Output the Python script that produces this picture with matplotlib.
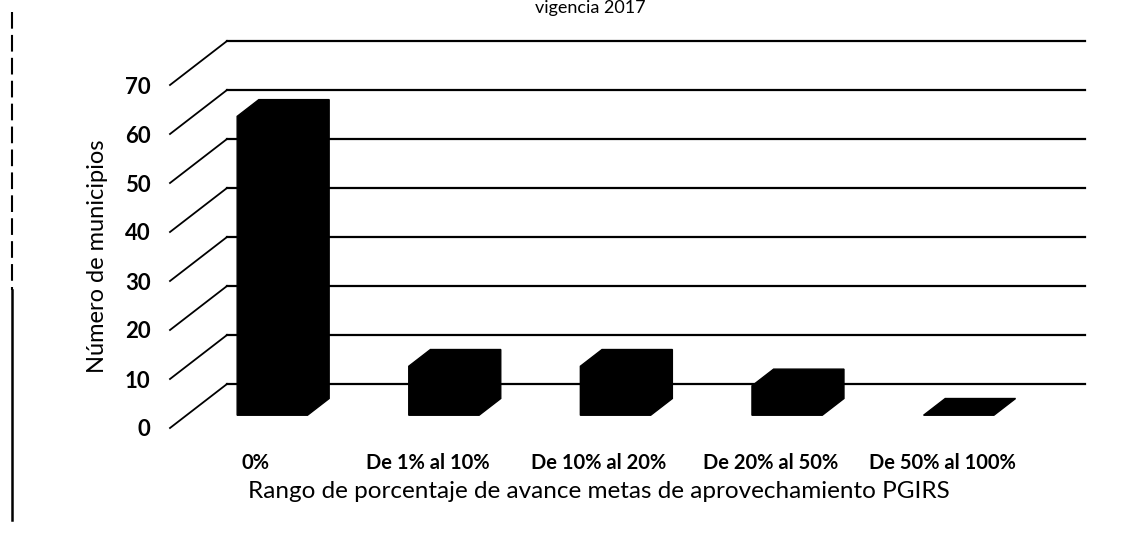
import matplotlib
matplotlib.use("Agg")
import matplotlib.pyplot as plt
from matplotlib.patches import Polygon
from matplotlib.lines import Line2D

categories = ["0%", "De 1% al 10%", "De 10% al 20%", "De 20% al 50%", "De 50% al 100%"]
values = [61, 10, 10, 6, 0]
y_ticks = [0, 10, 20, 30, 40, 50, 60, 70]
title = "vigencia 2017"
x_title = "Rango de porcentaje de avance metas de aprovechamiento PGIRS"
y_title = "Número de municipios"

W, H = 1143, 545
plt.rcParams['font.family'] = ['Lato', 'DejaVu Sans']
fig = plt.figure(figsize=(W / 100, H / 100), dpi=100)
fig.patch.set_facecolor('white')

# front plane of the 3D box
ax_left, ax_bottom, ax_w, ax_h = 170, H - 428, 858, 343
ax = fig.add_axes([ax_left / W, ax_bottom / H, ax_w / W, ax_h / H])
ax.set_xlim(-0.5, len(categories) - 0.5)
ax.set_ylim(0, 70)
for s in ax.spines.values():
    s.set_visible(False)
ax.patch.set_alpha(0)

# oblique depth vector (in data units)
DX = 57 / ax_w * len(categories)
DY = 44 / ax_h * 70


def proj(x, y, d):
    return x + d * DX, y + d * DY


x0, x1 = ax.get_xlim()
# back wall gridlines and left side-wall diagonals
for v in y_ticks:
    a = proj(x0, v, 1)
    b = proj(x1, v, 1)
    ax.plot([a[0], b[0]], [a[1], b[1]], color='black', lw=1.6, clip_on=False, zorder=1)
    f = proj(x0, v, 0)
    ax.plot([f[0], a[0]], [f[1], a[1]], color='black', lw=1.3, clip_on=False, zorder=1)

# 3D bars
hw = 0.205
d0, d1 = 0.29, 0.67
for i, v in enumerate(values):
    xa, xb = i - hw, i + hw
    pts = [proj(xa, 0, d0), proj(xb, 0, d0), proj(xb, 0, d1),
           proj(xb, v, d1), proj(xa, v, d1), proj(xa, v, d0)]
    ax.add_patch(Polygon(pts, closed=True, facecolor='black', edgecolor='black',
                         lw=1, clip_on=False, zorder=3))

ax.set_yticks(y_ticks)
ax.set_yticklabels([str(t) for t in y_ticks], fontsize=16, fontweight='bold')
ax.tick_params(axis='y', length=0, pad=14)
ax.set_xticks(range(len(categories)))
ax.set_xticklabels(categories, fontsize=14.5, fontweight='bold')
ax.tick_params(axis='x', length=0, pad=18)

ax.set_xlabel(x_title, fontsize=17.5, labelpad=6)
ax.set_ylabel(y_title, fontsize=17, labelpad=12)

fig.text(590 / W, 1 - 0.5 / H, title, ha='center', va='top', fontsize=13)

# scan border on the left
fig.add_artist(Line2D([12 / W, 12 / W], [1 - 12 / H, 1 - 290 / H], transform=fig.transFigure,
                      color='black', lw=1.5, linestyle=(0, (8, 3))))
fig.add_artist(Line2D([12 / W, 12 / W], [1 - 290 / H, 1 - 520 / H], transform=fig.transFigure,
                      color='black', lw=1.8))

fig.savefig("out.png", dpi=100)
